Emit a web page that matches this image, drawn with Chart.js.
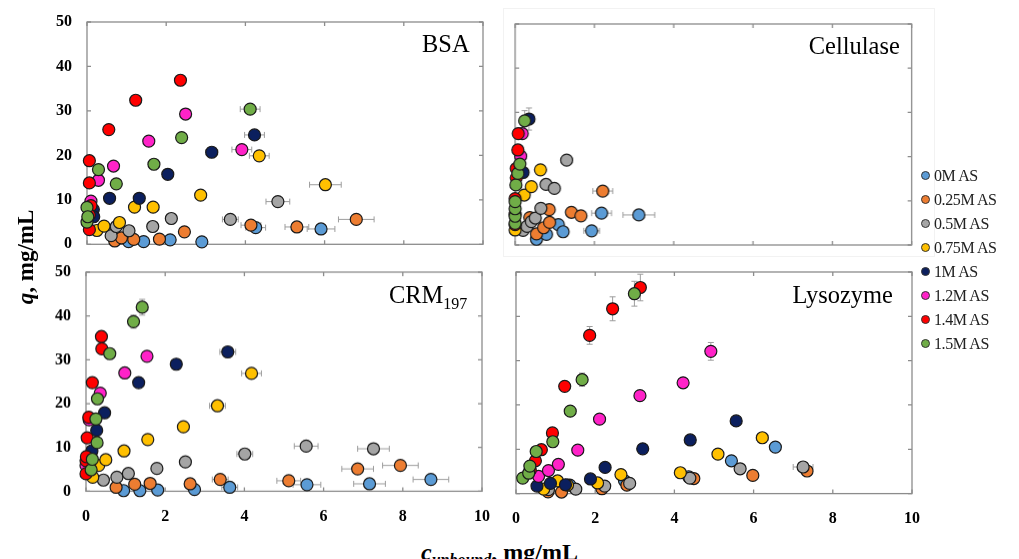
<!DOCTYPE html>
<html><head><meta charset="utf-8">
<script src="https://cdn.jsdelivr.net/npm/chart.js@4.4.0/dist/chart.umd.min.js"></script>
<style>
html,body{margin:0;padding:0;background:#fff;}
body{width:1019px;height:559px;position:relative;overflow:hidden;font-family:"Liberation Serif","Times New Roman",serif;color:#000;}
.pane{position:absolute;}
.pane canvas{display:block;}
.lbl{position:absolute;font-size:26px;line-height:26px;white-space:nowrap;transform:scaleX(0.94);transform-origin:right center;}
.leg{position:absolute;left:921px;font-size:16px;line-height:18px;color:#222;white-space:nowrap;letter-spacing:-0.4px;}
.leg i{display:inline-block;width:7px;height:7px;border-radius:50%;border:1px solid #333;margin-right:4px;vertical-align:1px;}
.frameBox{position:absolute;left:503px;top:8px;width:430px;height:247px;border:1px solid #f2f2f2;}
</style></head><body>
<div class="frameBox"></div>
<script>
// ---- series (legend) ----
const seriesNames = ['0M AS','0.25M AS','0.5M AS','0.75M AS','1M AS','1.2M AS','1.4M AS','1.5M AS'];
const seriesColors = ['#5B9BD5','#ED7D31','#A5A5A5','#FFC000','#0B1F5E','#FF22C8','#FF0000','#70AD47'];
// ---- axis ticks ----
const xTicks = [0,2,4,6,8,10];
const yTicks = [0,10,20,30,40,50];
// ---- panel titles ----
const panelTitles = ['BSA','Cellulase','CRM<sub>197</sub>','Lysozyme'];

// points: [c_unbound, q, xErr, yErr]  one array per salt level
const bsaData = [
  [[1.05,0.6],[1.43,0.6],[2.1,1.0],[2.9,0.55],[4.26,3.75,0.25,0],[5.91,3.45,0.35,0]],
  [[0.7,0.75],[0.87,1.45],[1.18,1.1],[1.83,1.15],[2.46,2.8],[4.14,4.3,0.25,0],[5.3,3.9,0.3,0],[6.8,5.6,0.45,0]],
  [[0.61,1.95],[0.74,4.0],[1.06,3.05],[1.66,4.0],[2.13,5.8],[3.62,5.6,0.2,0],[4.82,9.6,0.3,0]],
  [[0.25,3.1],[0.43,4.1],[0.82,4.9],[1.2,8.35],[1.67,8.35],[2.87,11.05],[4.35,19.9,0.25,0],[6.02,13.4,0.4,0]],
  [[0.16,7.8],[0.17,6.2],[0.57,10.35],[1.32,10.35],[2.04,15.75],[3.15,20.7,0.15,0],[4.23,24.6,0.25,0]],
  [[0.1,9.7],[0.29,14.4],[0.67,17.6],[1.56,23.2],[2.49,29.3,0,0.8],[3.91,21.3,0.25,0]],
  [[0.06,18.8],[0.06,13.8],[0.1,8.7],[0.06,6.6],[0.06,3.3],[0.55,25.8],[1.23,32.4,0,0.9],[2.36,36.9,0,1.2]],
  [[0.0,8.3],[0.0,5.0],[0.02,6.2],[0.29,16.8],[0.74,13.6],[1.69,18.0],[2.39,24.0],[4.12,30.4,0.25,0]]
];
const celData = [
  [[0.54,1.3],[0.79,2.4],[1.09,4.6],[1.21,3.0],[1.93,3.2,0.2,0],[2.18,7.2,0.25,0],[3.12,6.8,0.4,0]],
  [[0.54,2.5],[0.72,3.9],[0.87,5.1],[0.86,8.0],[1.42,7.4],[1.66,6.6],[2.21,12.2,0.25,0],[0.37,6.2]],
  [[0.2,3.3],[0.3,4.2],[0.41,5.3],[0.51,6.1],[0.65,8.3],[0.78,13.7],[0.99,12.8],[1.3,19.2,0,1.0]],
  [[0.0,3.4],[0.23,11.3],[0.41,13.2],[0.64,17.0,0,1.0]],
  [[0.2,16.4],[0.35,28.5,0,2.5]],
  [[0.14,20.1],[0.18,25.2]],
  [[0.0,4.6],[0.0,7.0],[0.0,10.5],[0.03,15.2],[0.03,17.3],[0.07,21.5],[0.08,25.2,0,1.0]],
  [[0.0,4.9],[0.0,6.5],[0.0,8.2],[0.0,9.8],[0.02,13.6],[0.07,16.2],[0.12,18.3],[0.24,28.1,0,2.3]]
];
const crmData = [
  [[0.95,0.15],[1.36,0.15],[1.81,0.3],[2.74,0.4],[3.63,0.9,0.2,0],[5.58,1.5,0.35,0],[7.16,1.7,0.4,0],[8.71,2.7,0.45,0]],
  [[0.76,0.9],[1.23,1.6],[1.62,1.8],[2.63,1.7],[3.39,2.7,0.2,0],[5.12,2.4,0.3,0],[6.86,5.1,0.4,0],[7.94,5.9,0.45,0]],
  [[0.44,2.55],[0.78,3.2],[1.07,4.05],[1.79,5.2],[2.51,6.7],[4.01,8.5,0.2,0],[5.56,10.3,0.3,0],[7.26,9.7,0.4,0]],
  [[0.17,3.2],[0.32,5.9],[0.5,7.2],[0.96,9.2],[1.56,11.8],[2.46,14.7],[3.32,19.5,0.2,0],[4.18,26.9,0.25,0]],
  [[0.15,9.25],[0.27,13.9],[0.47,17.9],[1.33,24.8],[2.28,29.0],[3.58,31.8,0.2,0]],
  [[0.0,5.9],[0.08,16.3],[0.36,22.4],[0.98,27.0],[1.54,30.8,0,0.9]],
  [[0.0,4.0],[0.0,7.0],[0.01,7.9],[0.03,12.2],[0.07,16.9],[0.16,24.8],[0.4,32.5],[0.39,35.3,0,1.2]],
  [[0.13,4.9],[0.16,7.3],[0.28,11.1],[0.25,16.5],[0.29,21.1],[0.6,31.4],[1.2,38.7,0,1.5],[1.42,42.0,0,1.8]]
];
const lysData = [
  [[0.78,1.0],[1.36,1.9],[2.74,2.9],[4.36,3.8],[5.44,7.4],[6.55,10.5]],
  [[0.81,0.4],[1.15,0.35],[2.17,1.1],[2.8,1.9],[4.49,3.4],[5.98,4.1],[7.35,5.1]],
  [[0.82,0.9],[1.51,1.0],[2.24,1.7],[2.87,2.3],[4.39,3.5],[5.66,5.6],[7.25,6.0,0.25,0]],
  [[0.7,1.0],[1.05,2.85],[1.3,1.9],[2.06,2.4],[2.65,4.3],[4.15,4.7],[5.1,8.9],[6.22,12.6,0.15,0]],
  [[0.53,1.7],[0.87,2.3],[1.25,2.0],[1.88,3.3],[2.25,5.9],[3.2,10.1],[4.4,12.1],[5.56,16.4]],
  [[0.57,3.9],[0.82,5.2],[1.07,6.6],[1.56,9.8],[2.11,16.8],[3.13,22.1,0,1.0],[4.22,25.0,0,1.2],[4.92,32.1,0,2.0]],
  [[0.36,5.3],[0.49,7.4],[0.64,9.9],[0.92,13.7],[1.23,24.2,0,1.0],[1.86,35.7,0,2.0],[2.44,41.7,0,2.7],[3.14,46.5,0,3.0]],
  [[0.17,3.5],[0.32,4.6],[0.35,6.2],[0.51,9.5],[0.93,11.7],[1.37,18.6],[1.67,25.7,0,1.5],[2.99,45.1,0,2.8]]
];

// ---- layout ----
const panels = [
  {data: bsaData, area:[86.7,21.7,482.7,244],   showY:true,  showX:false, title:0, tRight:470,   tTop:30.5},
  {data: celData, area:[515,24,910.7,245],      showY:false, showX:false, title:1, tRight:899.5, tTop:32.5},
  {data: crmData, area:[85.7,272.3,481.7,490.7],showY:true,  showX:true,  title:2, tRight:467,   tTop:282},
  {data: lysData, area:[515.7,271.7,911.7,493.3],showY:false,showX:true,  title:3, tRight:893,   tTop:282}
];
const YW=60, PT=32, PR=32, XH=40;
const tickFont = {family:'"Liberation Serif", serif', size:16, weight:'bold'};

const framePlugin = {
  id:'frameErr',
  beforeDatasetsDraw(chart){
    const {ctx, chartArea:a} = chart;
    const x = chart.scales.x, y = chart.scales.y;
    ctx.save();
    ctx.strokeStyle='#8c8c8c'; ctx.lineWidth=1.3;
    ctx.strokeRect(a.left,a.top,a.right-a.left,a.bottom-a.top);
    ctx.beginPath();
    x.ticks.forEach(t=>{const px=x.getPixelForValue(t.value);
      ctx.moveTo(px,a.bottom); ctx.lineTo(px,a.bottom-4);
      ctx.moveTo(px,a.top); ctx.lineTo(px,a.top+4);});
    y.ticks.forEach(t=>{const py=y.getPixelForValue(t.value);
      ctx.moveTo(a.left,py); ctx.lineTo(a.left+4,py);
      ctx.moveTo(a.right,py); ctx.lineTo(a.right-4,py);});
    ctx.stroke();
    ctx.strokeStyle='#9d9d9d'; ctx.lineWidth=1;
    chart.data.datasets.forEach(ds=>{
      ds.data.forEach(p=>{
        const cx=x.getPixelForValue(p.x), cy=y.getPixelForValue(p.y);
        ctx.beginPath();
        if(p.xe){
          const x1=x.getPixelForValue(p.x-p.xe), x2=x.getPixelForValue(p.x+p.xe);
          ctx.moveTo(x1,cy); ctx.lineTo(x2,cy);
          ctx.moveTo(x1,cy-3); ctx.lineTo(x1,cy+3);
          ctx.moveTo(x2,cy-3); ctx.lineTo(x2,cy+3);
        }
        if(p.ye){
          const y1=y.getPixelForValue(p.y-p.ye), y2=y.getPixelForValue(p.y+p.ye);
          ctx.moveTo(cx,y1); ctx.lineTo(cx,y2);
          ctx.moveTo(cx-3,y1); ctx.lineTo(cx+3,y1);
          ctx.moveTo(cx-3,y2); ctx.lineTo(cx+3,y2);
        }
        ctx.stroke();
      });
    });
    ctx.restore();
  }
};

panels.forEach(pn=>{
  const [L,T,R,B] = pn.area;
  const div = document.createElement('div');
  div.className='pane';
  div.style.left=(L-YW)+'px'; div.style.top=(T-PT)+'px';
  div.style.width=((R-L)+YW+PR)+'px'; div.style.height=((B-T)+PT+XH)+'px';
  const cv = document.createElement('canvas');
  div.appendChild(cv); document.body.appendChild(div);
  const datasets = seriesNames.map((n,i)=>({
    label:n,
    data: pn.data[i].map(p=>({x:p[0], y:p[1], xe:p[2]||0, ye:p[3]||0})),
    backgroundColor: seriesColors[i],
    borderColor:'#1a1a1a', borderWidth:1.2,
    pointRadius:6, pointHoverRadius:6, showLine:false, clip:false, order:7-i
  }));
  new Chart(cv, {
    type:'scatter',
    data:{datasets},
    options:{
      responsive:true, maintainAspectRatio:false, animation:false,
      layout:{padding:{top:PT,right:PR,left:0,bottom:0}},
      plugins:{legend:{display:false}, tooltip:{enabled:false}},
      scales:{
        x:{type:'linear', min:0, max:10,
           afterBuildTicks:s=>{s.ticks = xTicks.map(v=>({value:v}));},
           afterFit:s=>{s.height=XH;},
           ticks:{display:pn.showX, font:tickFont, color:'#000', padding:16, maxRotation:0, autoSkip:false},
           grid:{display:false, drawTicks:false}, border:{display:false}},
        y:{type:'linear', min:0, max:50,
           afterBuildTicks:s=>{s.ticks = yTicks.map(v=>({value:v}));},
           afterFit:s=>{s.width=YW;},
           ticks:{display:pn.showY, font:tickFont, color:'#000', padding:15, autoSkip:false},
           grid:{display:false, drawTicks:false}, border:{display:false}}
      }
    },
    plugins:[framePlugin]
  });
  const t = document.createElement('div');
  t.className='lbl';
  t.innerHTML = panelTitles[pn.title].replace('<sub>','<span style="font-size:17px;position:relative;top:6px">').replace('</sub>','</span>');
  t.style.right=(1019-pn.tRight)+'px'; t.style.top=pn.tTop+'px';
  document.body.appendChild(t);
});

// legend
seriesNames.forEach((n,i)=>{
  const d=document.createElement('div');
  d.className='leg';
  d.style.top=(176+24*i-9)+'px';
  d.innerHTML='<i style="background:'+seriesColors[i]+'"></i>'+n;
  document.body.appendChild(d);
});
</script>
<div style="position:absolute;left:-36px;top:245px;width:124px;height:24px;line-height:24px;text-align:center;font-weight:bold;font-size:23px;transform:rotate(-90deg);white-space:nowrap;"><i>q</i>, mg/mL</div>
<div style="position:absolute;left:421px;top:540px;height:24px;line-height:24px;font-weight:bold;font-size:24px;white-space:nowrap;"><i>c</i><i style="font-size:16px;position:relative;top:5px">unbound</i>, mg/mL</div>
</body></html>
